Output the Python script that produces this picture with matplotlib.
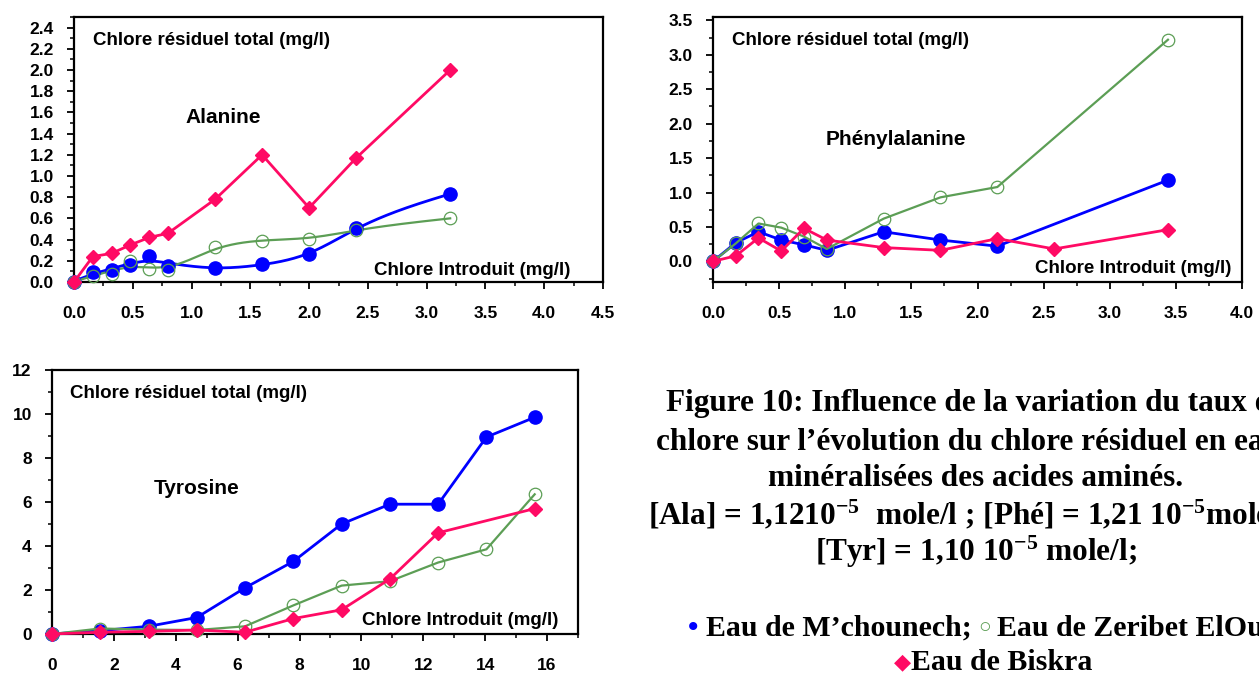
import numpy as np
import matplotlib
matplotlib.use("Agg")
import matplotlib.pyplot as plt
from matplotlib.ticker import MultipleLocator, FormatStrFormatter

plt.rcParams["mathtext.fontset"] = "custom"
plt.rcParams["mathtext.rm"] = "Liberation Serif:bold"
plt.rcParams["mathtext.default"] = "rm"

BLUE = "#0000ff"
GREEN = "#5c9e55"
PINK = "#ff0a64"

# Alanine
ala_x = np.array([0, 0.16, 0.32, 0.48, 0.64, 0.80, 1.20, 1.60, 2.00, 2.40, 3.20])
ala_mch = np.array([0, 0.09, 0.11, 0.16, 0.25, 0.15, 0.13, 0.17, 0.26, 0.51, 0.83])
ala_zer = np.array([0, 0.06, 0.08, 0.20, 0.12, 0.11, 0.33, 0.39, 0.41, 0.49, 0.60])
ala_bis = np.array([0, 0.24, 0.27, 0.35, 0.42, 0.46, 0.78, 1.20, 0.70, 1.17, 2.00])

# Phenylalanine
phe_x = np.array([0, 0.172, 0.344, 0.516, 0.688, 0.86, 1.29, 1.72, 2.15, 2.58, 3.44])
phe_mch = np.array([0, 0.27, 0.43, 0.31, 0.24, 0.16, 0.43, 0.31, 0.22, np.nan, 1.18])
phe_zer = np.array([0, 0.26, 0.55, 0.49, 0.36, 0.18, 0.62, 0.93, 1.08, np.nan, 3.22])
phe_bis = np.array([0, 0.08, 0.34, 0.15, 0.48, 0.31, 0.20, 0.16, 0.33, 0.18, 0.46])

# Tyrosine
tyr_x = np.array([0, 1.56, 3.12, 4.68, 6.24, 7.80, 9.36, 10.92, 12.48, 14.04, 15.60])
tyr_mch = np.array([0, 0.15, 0.35, 0.75, 2.1, 3.3, 5.0, 5.9, 5.9, 8.95, 9.85])
tyr_zer = np.array([0, 0.25, 0.20, 0.18, 0.35, 1.3, 2.2, 2.4, 3.25, 3.85, 6.35])
tyr_bis = np.array([0, 0.08, 0.12, 0.18, 0.08, 0.7, 1.1, 2.5, 4.6, np.nan, 5.7])


def smooth(x, y, lam=2000, step=0.01):
    # penalised (spline-like) smoothing on a fine grid
    grid = np.arange(x[0], x[-1] + step / 2, step)
    n = len(grid)
    w = np.zeros(n)
    z = np.zeros(n)
    idx = np.rint((x - x[0]) / step).astype(int)
    w[idx] = 1
    z[idx] = y
    D = np.diff(np.eye(n), 2, axis=0)
    return grid, np.linalg.solve(np.diag(w) + lam * D.T @ D, w * z)


def series(ax, x, y, kind, smoothed=False):
    m = ~np.isnan(y)
    x, y = x[m], y[m]
    if kind == "mch":
        style = dict(color=BLUE, lw=2, marker="o", ms=9.5, mfc=BLUE, mec=BLUE)
    elif kind == "zer":
        style = dict(color=GREEN, lw=1.6, marker="o", ms=9, mfc="none", mec=GREEN, mew=0.9)
    else:
        style = dict(color=PINK, lw=2, marker="D", ms=7.5, mfc=PINK, mec=PINK)
    if smoothed:
        gx, gy = smooth(x, y)
        ax.plot(gx, gy, color=style["color"], lw=style["lw"], zorder=3)
        style["ls"] = "none"
    ax.plot(x, y, clip_on=False, zorder=4, **style)


def setup(ax, xlim, ylim, xmaj, xmin, ymaj, ymin, fmt, yticks, name, name_pos, intro_pos):
    ax.set_xlim(*xlim)
    ax.set_ylim(*ylim)
    ax.xaxis.set_major_locator(MultipleLocator(xmaj))
    ax.xaxis.set_minor_locator(MultipleLocator(xmin))
    ax.set_yticks(yticks)
    ax.yaxis.set_minor_locator(MultipleLocator(ymin))
    ax.xaxis.set_major_formatter(FormatStrFormatter(fmt))
    ax.yaxis.set_major_formatter(FormatStrFormatter(fmt))
    for s in ax.spines.values():
        s.set_linewidth(1.6)
    ax.tick_params(which="major", direction="out", length=5, width=1.3, labelsize=12.5)
    ax.tick_params(axis="x", which="major", pad=12)
    ax.tick_params(axis="y", which="major", pad=9.5)
    ax.tick_params(which="minor", direction="out", length=3, width=1.1)
    for lab in ax.get_xticklabels() + ax.get_yticklabels():
        lab.set_fontweight("bold")
        lab.set_fontfamily("Liberation Sans")
    ax.text(0.035, 0.91, "Chlore résiduel total (mg/l)", transform=ax.transAxes,
            fontsize=13.5, fontweight="bold", family="Liberation Sans", va="center", ha="left")
    ax.text(name_pos[0], name_pos[1], name, transform=ax.transAxes,
            fontsize=15, fontweight="bold", family="Liberation Sans", va="center", ha="center")
    ax.text(intro_pos[0], intro_pos[1], "Chlore Introduit (mg/l)", transform=ax.transAxes,
            fontsize=13.5, fontweight="bold", family="Liberation Sans", va="center", ha="right")


W, H = 1259, 673
fig = plt.figure(figsize=(W / 100, H / 100), dpi=100)

ax1 = fig.add_axes([74 / W, 1 - 282 / H, 529 / W, 265 / H])
series(ax1, ala_x, ala_mch, "mch", smoothed=True)
series(ax1, ala_x, ala_zer, "zer", smoothed=True)
series(ax1, ala_x, ala_bis, "bis")
setup(ax1, (0, 4.5), (0, 2.5), 0.5, 0.25, 0.2, 0.1, "%.1f",
      np.arange(0, 2.41, 0.2), "Alanine", (0.282, 0.62), (0.938, 0.045))

ax2 = fig.add_axes([713 / W, 1 - 282 / H, 529 / W, 265 / H])
series(ax2, phe_x, phe_mch, "mch")
series(ax2, phe_x, phe_zer, "zer")
series(ax2, phe_x, phe_bis, "bis")
setup(ax2, (0, 4.0), (-0.3, 3.55), 0.5, 0.25, 0.5, 0.25, "%.1f",
      np.arange(0, 3.51, 0.5), "Phénylalanine", (0.346, 0.536), (0.98, 0.05))

ax3 = fig.add_axes([52 / W, 1 - 634 / H, 526 / W, 264 / H])
series(ax3, tyr_x, tyr_mch, "mch")
series(ax3, tyr_x, tyr_zer, "zer")
series(ax3, tyr_x, tyr_bis, "bis")
setup(ax3, (0, 17), (0, 12), 2, 1, 2, 1, "%.0f",
      np.arange(0, 12.1, 2), "Tyrosine", (0.275, 0.553), (0.962, 0.053))

# caption, centred on a column that runs past the right edge
cap = dict(fontsize=22.5, fontweight="bold", family=["Liberation Serif", "DejaVu Sans"], va="center")
caption_lines = [
    (403, "Figure 10: Influence de la variation du taux de"),
    (442, "chlore sur l’évolution du chlore résiduel en eaux"),
    (478, "minéralisées des acides aminés."),
    (515, "[Ala] = 1,1210$^{-5}$  mole/l ; [Phé] = 1,21 10$^{-5}$mole/l ;"),
    (552, "[Tyr] = 1,10 10$^{-5}$ mole/l;"),
]
for py, s in caption_lines:
    fig.text(976 / W, 1 - py / H, s, ha="center", **cap)

renderer = fig.canvas.get_renderer()


def chain(px, py, parts):
    x = px / W
    for s, c, size in parts:
        t = fig.text(x, 1 - py / H, s, color=c, ha="left", **dict(cap, fontsize=size))
        bb = t.get_window_extent(renderer)
        x = bb.x1 / W


chain(688, 628, [("• ", BLUE, 21.5), ("Eau de M’chounech; ", "black", 21.5),
                 ("○ ", GREEN, 15), ("Eau de Zeribet ElOued", "black", 21.5)])
chain(894, 663, [("◆", PINK, 16), ("Eau de Biskra", "black", 21.5)])

fig.savefig("out.png", dpi=100)
